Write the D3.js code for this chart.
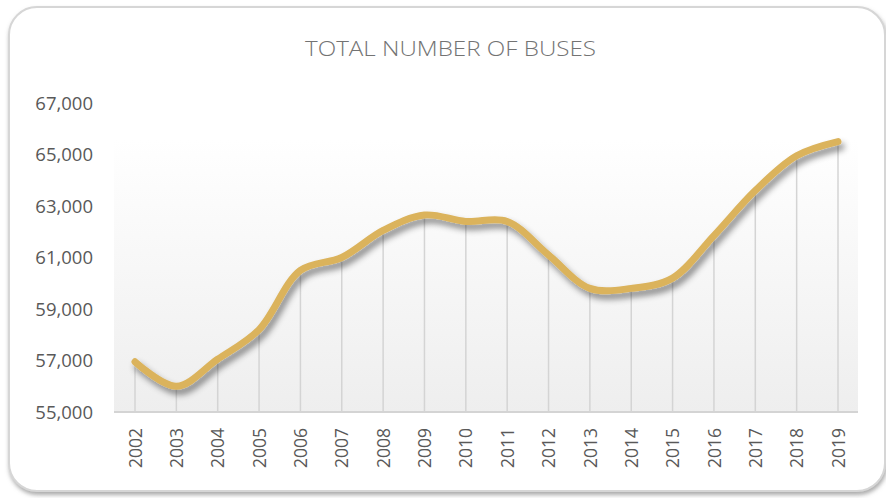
<!DOCTYPE html>
<html><head><meta charset="utf-8">
<script src="https://cdn.jsdelivr.net/npm/d3@7"></script>
<style>html,body{margin:0;padding:0;background:#fff;}svg{display:block;}</style>
</head><body>
<script>
const title = "TOTAL NUMBER OF BUSES";
const years = ["2002","2003","2004","2005","2006","2007","2008","2009","2010","2011","2012","2013","2014","2015","2016","2017","2018","2019"];
const buses = [56950,56000,57050,58200,60500,61000,62050,62650,62400,62400,61100,59800,59800,60200,61850,63600,64950,65500];
const yTicks = [55000,57000,59000,61000,63000,65000,67000];

const W = 886, H = 498;
const svg = d3.select("body").append("svg").attr("width", W).attr("height", H);
const defs = svg.append("defs");

// card shadow / border
const cs = defs.append("filter").attr("id","cardShadow").attr("x","-5%").attr("y","-5%").attr("width","110%").attr("height","110%");
cs.append("feDropShadow").attr("dx",1).attr("dy",3).attr("stdDeviation",2).attr("flood-color","#888").attr("flood-opacity",0.7);
svg.append("rect").attr("x",9).attr("y",7).attr("width",876).attr("height",484).attr("rx",28)
  .attr("fill","#fff").attr("stroke","#d6d6d6").attr("stroke-width",2).attr("filter","url(#cardShadow)");

// plot gradient
const g = defs.append("linearGradient").attr("id","bg").attr("x1",0).attr("y1",0).attr("x2",0).attr("y2",1);
g.append("stop").attr("offset","0%").attr("stop-color","#ffffff");
g.append("stop").attr("offset","100%").attr("stop-color","#eeeeee");

const x = d3.scalePoint().domain(years).range([135, 838]);
const y = d3.scaleLinear().domain([55000, 67000]).range([412, 103]);

svg.append("rect").attr("x",114).attr("y",140).attr("width",744).attr("height",272).attr("fill","url(#bg)");

// title
svg.append("text").attr("x",305).attr("y",56)
  .attr("font-family","'Open Sans', sans-serif").attr("font-size",21).attr("font-weight",300)
  .attr("textLength",291).attr("lengthAdjust","spacingAndGlyphs")
  .attr("fill","#737373").text(title);

// y axis labels
const yAxis = d3.axisLeft(y).tickValues(yTicks).tickFormat(d3.format(",")).tickSize(0).tickPadding(0);
const ya = svg.append("g").attr("transform","translate(93,0)").call(yAxis);
ya.select(".domain").remove();
ya.selectAll("text").attr("font-family","'Open Sans', sans-serif").attr("font-size",18.5).attr("fill","#595959").attr("dy","0.35em");

// drop lines
svg.append("g").selectAll("line").data(years).join("line")
  .attr("x1",d=>x(d)).attr("x2",d=>x(d))
  .attr("y1",(d,i)=>y(buses[i])).attr("y2",412)
  .attr("stroke","#d4d4d4").attr("stroke-width",1.5);

// x axis
const xAxis = d3.axisBottom(x).tickSize(0).tickPadding(0);
const xa = svg.append("g").attr("transform","translate(0,412)").call(xAxis);
xa.select(".domain").remove();
xa.append("line").attr("x1",114).attr("x2",858).attr("y1",0).attr("y2",0).attr("stroke","#d4d4d4").attr("stroke-width",2);
xa.selectAll(".tick text").attr("font-family","'Open Sans', sans-serif").attr("font-size",17.5).attr("fill","#595959")
  .attr("transform","rotate(-90)").attr("text-anchor","end").attr("x",-16).attr("y",0).attr("dy","0.35em");

// line with shadow
const ls = defs.append("filter").attr("id","lineShadow").attr("x","-10%").attr("y","-10%").attr("width","120%").attr("height","130%");
ls.append("feDropShadow").attr("dx",3).attr("dy",5).attr("stdDeviation",3).attr("flood-color","#000").attr("flood-opacity",0.45);
const line = d3.line().x((d,i)=>x(years[i])).y(d=>y(d)).curve(d3.curveCatmullRom.alpha(0.5));
svg.append("path").datum(buses).attr("d",line).attr("fill","none")
  .attr("stroke","#dbb35c").attr("stroke-width",7).attr("stroke-linecap","round").attr("stroke-linejoin","round")
  .attr("filter","url(#lineShadow)");
</script>
</body></html>
